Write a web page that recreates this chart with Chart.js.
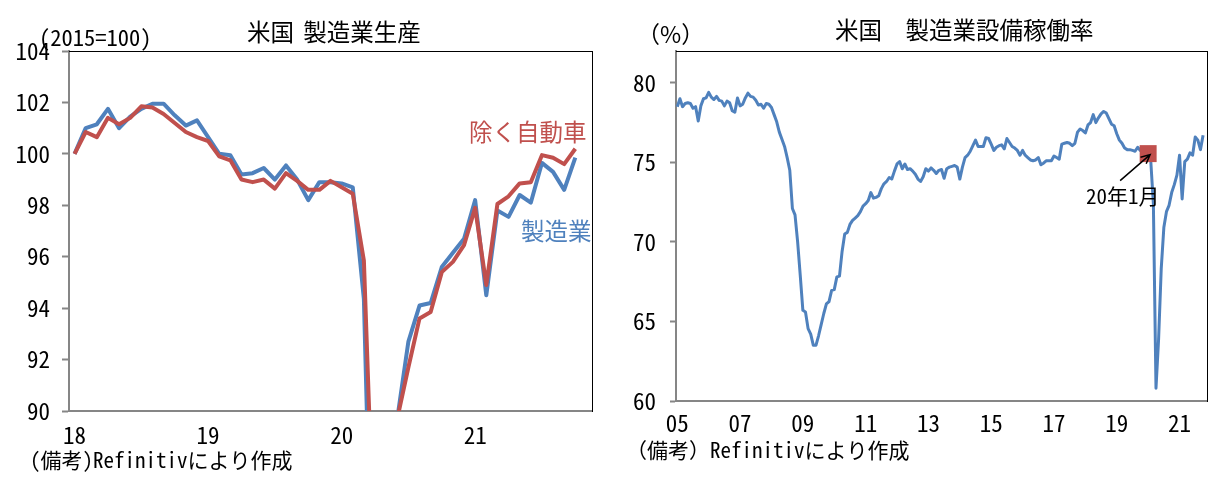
<!DOCTYPE html>
<html lang="ja">
<head>
<meta charset="utf-8">
<title>米国 製造業生産・製造業設備稼働率</title>
<script src="https://cdn.jsdelivr.net/npm/chart.js"></script>
<style>
  body { margin: 0; background: #fff; }
  #wrap { position: relative; width: 1227px; height: 485px; overflow: hidden; background: #fff;
          font-family: 'Noto Sans CJK JP', sans-serif; color: #000; }
  canvas { position: absolute; top: 0; }
  #prod-chart { left: 0; }
  #util-chart { left: 610px; }
  .txt { position: absolute; white-space: pre; line-height: 1; }
  .mono { font-family: 'Noto Sans Mono CJK JP', 'Noto Sans CJK JP', monospace; }
  .title { font-size: 23.5px; }
</style>
</head>
<body>
<div id="wrap">
  <canvas id="prod-chart" width="610" height="485"></canvas>
  <canvas id="util-chart" width="617" height="485"></canvas>

  <div class="txt title" style="left:247px; top:20px; word-spacing:4px;">米国 製造業生産</div>
  <div class="txt mono" style="left:39px; top:25px; font-size:22.5px;">(2015=100)</div>
  <div class="txt title" style="left:469px; top:120px; color:#C0504D;">除く自動車</div>
  <div class="txt title" style="left:521px; top:219px; color:#4F81BD;">製造業</div>
  <div class="txt mono" style="left:30px; top:449px; font-size:21px;">(備考)Refinitivにより作成</div>

  <div class="txt title" style="left:835px; top:18px;">米国　製造業設備稼働率</div>
  <div class="txt" style="left:637px; top:22px; font-size:23px;">（%）</div>
  <div class="txt mono" style="left:1086px; top:185px; font-size:21px;">20年1月</div>
  <div class="txt mono" style="left:626px; top:439px; font-size:21px;">（備考）Refinitivにより作成</div>
</div>

<script>
// --- data -------------------------------------------------------------
// 製造業生産 (2015=100), 2018/1 - 2021/10
const prodManufacturing = [
    100.0, 101.0, 101.15, 101.75, 101.0, 101.45, 101.75, 101.95, 101.95, 101.5, 101.1, 101.3,
    100.65, 100.0, 99.95, 99.2, 99.25, 99.45, 99.0, 99.55, 99.0, 98.2, 98.9, 98.9,
    98.85, 98.7, 94.35, 78.0, 83.0, 89.7, 92.7, 94.1, 94.2, 95.6, 96.15, 96.7,
    98.2, 94.5, 97.8, 97.55, 98.4, 98.1, 99.65, 99.3, 98.6, 99.85
];
const prodExAuto = [
    100.0, 100.85, 100.65, 101.4, 101.15, 101.4, 101.85, 101.8, 101.55, 101.2, 100.85, 100.65,
    100.5, 99.9, 99.75, 99.0, 98.9, 99.0, 98.65, 99.25, 98.95, 98.6, 98.6, 98.95,
    98.7, 98.45, 95.85, 83.5, 86.0, 89.7, 91.7, 93.6, 93.85, 95.4, 95.8, 96.45,
    97.9, 94.9, 98.05, 98.35, 98.85, 98.9, 99.95, 99.85, 99.6, 100.2
];
const prodTickLabels = ['18', '19', '20', '21'];
const prodYTicks = [90, 92, 94, 96, 98, 100, 102, 104];

// 製造業設備稼働率 (%), 2005/1 - 2021/10
const utilRate = [
    78.5, 79.0, 78.5, 78.7, 78.75, 78.7, 78.4, 78.5, 77.6, 78.55, 79.0, 79.05,
    79.4, 79.1, 78.95, 79.15, 78.9, 78.85, 78.55, 78.85, 78.75, 78.25, 78.15, 79.05,
    78.55, 78.65, 79.05, 79.35, 79.15, 79.1, 78.9, 78.6, 78.65, 78.4, 78.7, 78.65,
    78.45, 78.0, 77.55, 76.9, 76.45, 76.0, 75.3, 74.5, 72.1, 71.7, 70.0, 67.9,
    65.7, 65.6, 64.55, 64.2, 63.5, 63.5, 64.1, 64.8, 65.5, 66.1, 66.25, 66.95,
    67.0, 67.8, 67.85, 69.4, 70.5, 70.6, 71.1, 71.35, 71.5, 71.65, 71.9, 72.25,
    72.4, 72.6, 73.1, 72.75, 72.8, 72.9, 73.35, 73.65, 73.8, 74.05, 73.95, 74.45,
    74.9, 75.05, 74.6, 74.9, 74.55, 74.6, 74.45, 74.25, 73.95, 73.8, 74.1, 74.6,
    74.45, 74.65, 74.5, 74.3, 74.5, 74.55, 74.0, 74.6, 74.7, 74.75, 74.8, 74.7,
    73.95, 74.7, 75.3, 75.45, 75.7, 76.05, 76.4, 76.0, 76.0, 76.0, 76.55, 76.5,
    76.15, 75.75, 75.95, 76.05, 76.1, 75.85, 76.5, 76.25, 76.0, 75.9, 75.75, 75.45,
    75.75, 75.45, 75.3, 75.15, 75.1, 75.15, 75.3, 74.85, 74.95, 75.1, 75.1, 75.1,
    75.4, 75.3, 75.2, 76.15, 76.2, 76.25, 76.2, 76.05, 76.2, 76.9, 77.1, 77.0,
    76.85, 77.35, 77.5, 78.0, 77.5, 77.8, 78.05, 78.2, 78.1, 77.75, 77.4, 77.3,
    76.8, 76.4, 76.2, 75.9, 75.8, 75.8, 75.75, 75.7, 75.95, 75.75, 75.65, 75.65,
    75.55, 75.1, 72.4, 60.8, 63.9, 68.3, 70.9, 71.9, 72.3, 73.1, 73.6, 74.2,
    75.45, 72.7, 75.05, 75.2, 75.6, 75.45, 76.6, 76.4, 75.8, 76.7
];
const utilTickLabels = ['05', '07', '09', '11', '13', '15', '17', '19', '21'];
const utilYTicks = [60, 65, 70, 75, 80];
const utilMarkerMonth = '2020-01';

// --- helpers ----------------------------------------------------------
const BLUE = '#4F81BD';
const RED = '#C0504D';
const AXIS_GRAY = '#868686';
const tickFont = { family: "'Noto Sans Mono CJK JP', 'Noto Sans CJK JP', monospace", size: 23 };

const monthRange = (startYear, count) => {
    const out = [];
    for (let i = 0; i < count; i++) {
        const y = startYear + Math.floor(i / 12);
        const m = String((i % 12) + 1).padStart(2, '0');
        out.push(`${y}-${m}`);
    }
    return out;
};

// one empty month is kept after the last value, as in the source sheet
const prodMonths = monthRange(2018, prodManufacturing.length + 1);
const utilMonths = monthRange(2005, utilRate.length + 1);

const yearTick = (months, labels) => (value, index) => {
    const m = months[index];
    const yy = m.slice(2, 4);
    return m.endsWith('-01') && labels.includes(yy) ? yy : null;
};

// thin black top / right frame lines
const frameAxis = (type, position) => ({
    type,
    position,
    display: true,
    grid: { display: false },
    ticks: { display: false },
    border: { display: true, color: '#000', width: 1 },
    afterFit: s => {
        if (position === 'top') s.height = 0;
        else s.width = 0;
    }
});

const baseOptions = {
    responsive: false,
    animation: false,
    events: [],
    plugins: { legend: { display: false }, tooltip: { enabled: false } }
};

Chart.defaults.color = '#000';

// --- 米国 製造業生産 --------------------------------------------------
new Chart(document.getElementById('prod-chart'), {
    type: 'line',
    data: {
        labels: prodMonths,
        datasets: [{
            label: '除く自動車',
            data: prodExAuto,
            borderColor: RED,
            borderWidth: 4,
            pointRadius: 0,
            tension: 0,
            borderJoinStyle: 'round',
            clip: 0,
            order: 0
        }, {
            label: '製造業',
            data: prodManufacturing,
            borderColor: BLUE,
            borderWidth: 4,
            pointRadius: 0,
            tension: 0,
            borderJoinStyle: 'round',
            clip: 0,
            order: 1
        }]
    },
    options: {
        ...baseOptions,
        layout: { padding: { top: 51, right: 18, bottom: 0, left: 0 } },
        scales: {
            x: {
                type: 'category',
                offset: true,
                grid: { display: false },
                border: { display: true, color: AXIS_GRAY, width: 2 },
                ticks: {
                    autoSkip: false,
                    maxRotation: 0,
                    padding: 2,
                    font: tickFont,
                    callback: yearTick(prodMonths, prodTickLabels)
                },
                afterFit: s => { s.height = 74; }
            },
            y: {
                min: 90,
                max: 104,
                grid: { drawOnChartArea: false, drawTicks: true, tickLength: 7, tickWidth: 2, tickColor: AXIS_GRAY },
                border: { display: true, color: AXIS_GRAY, width: 2 },
                ticks: { padding: 12, font: tickFont },
                afterBuildTicks: s => { s.ticks = prodYTicks.map(v => ({ value: v })); },
                afterFit: s => { s.width = 69; }
            },
            xTop: frameAxis('category', 'top'),
            yRight: frameAxis('linear', 'right')
        }
    }
});

// --- 米国 製造業設備稼働率 --------------------------------------------
const markerIndex = utilMonths.indexOf(utilMarkerMonth);

const arrowPlugin = {
    id: 'jan20Arrow',
    afterDatasetsDraw(chart) {
        const pt = chart.getDatasetMeta(1).data[markerIndex];
        if (!pt) return;
        const { ctx } = chart;
        const x1 = pt.x - 28, y1 = pt.y + 27;
        const x2 = pt.x + 2, y2 = pt.y + 1;
        const ang = Math.atan2(y2 - y1, x2 - x1);
        const head = 10;
        ctx.save();
        ctx.strokeStyle = '#000';
        ctx.lineWidth = 1.5;
        ctx.beginPath();
        ctx.moveTo(x1, y1);
        ctx.lineTo(x2, y2);
        ctx.moveTo(x2 - head * Math.cos(ang - 0.45), y2 - head * Math.sin(ang - 0.45));
        ctx.lineTo(x2, y2);
        ctx.lineTo(x2 - head * Math.cos(ang + 0.45), y2 - head * Math.sin(ang + 0.45));
        ctx.stroke();
        ctx.restore();
    }
};

new Chart(document.getElementById('util-chart'), {
    type: 'line',
    data: {
        labels: utilMonths,
        datasets: [{
            label: '製造業設備稼働率',
            data: utilRate,
            borderColor: BLUE,
            borderWidth: 3,
            pointRadius: 0,
            tension: 0,
            borderJoinStyle: 'round',
            order: 1
        }, {
            label: utilMarkerMonth,
            data: utilRate.map((v, i) => (i === markerIndex ? v : null)),
            showLine: false,
            pointStyle: 'rect',
            pointRadius: 12,
            pointBorderWidth: 0,
            pointBackgroundColor: RED,
            pointBorderColor: RED,
            order: 0
        }]
    },
    options: {
        ...baseOptions,
        layout: { padding: { top: 51, right: 20, bottom: 0, left: 0 } },
        scales: {
            x: {
                type: 'category',
                offset: true,
                grid: { display: false },
                border: { display: true, color: AXIS_GRAY, width: 2 },
                ticks: {
                    autoSkip: false,
                    maxRotation: 0,
                    padding: 0,
                    font: tickFont,
                    callback: yearTick(utilMonths, utilTickLabels)
                },
                afterFit: s => { s.height = 84; }
            },
            y: {
                min: 60,
                max: 82,
                grid: { drawOnChartArea: false, drawTicks: true, tickLength: 6, tickWidth: 2, tickColor: AXIS_GRAY },
                border: { display: true, color: AXIS_GRAY, width: 2 },
                ticks: { padding: 14, font: tickFont },
                afterBuildTicks: s => { s.ticks = utilYTicks.map(v => ({ value: v })); },
                afterFit: s => { s.width = 66; }
            },
            xTop: frameAxis('category', 'top'),
            yRight: frameAxis('linear', 'right')
        }
    },
    plugins: [arrowPlugin]
});
</script>
</body>
</html>
